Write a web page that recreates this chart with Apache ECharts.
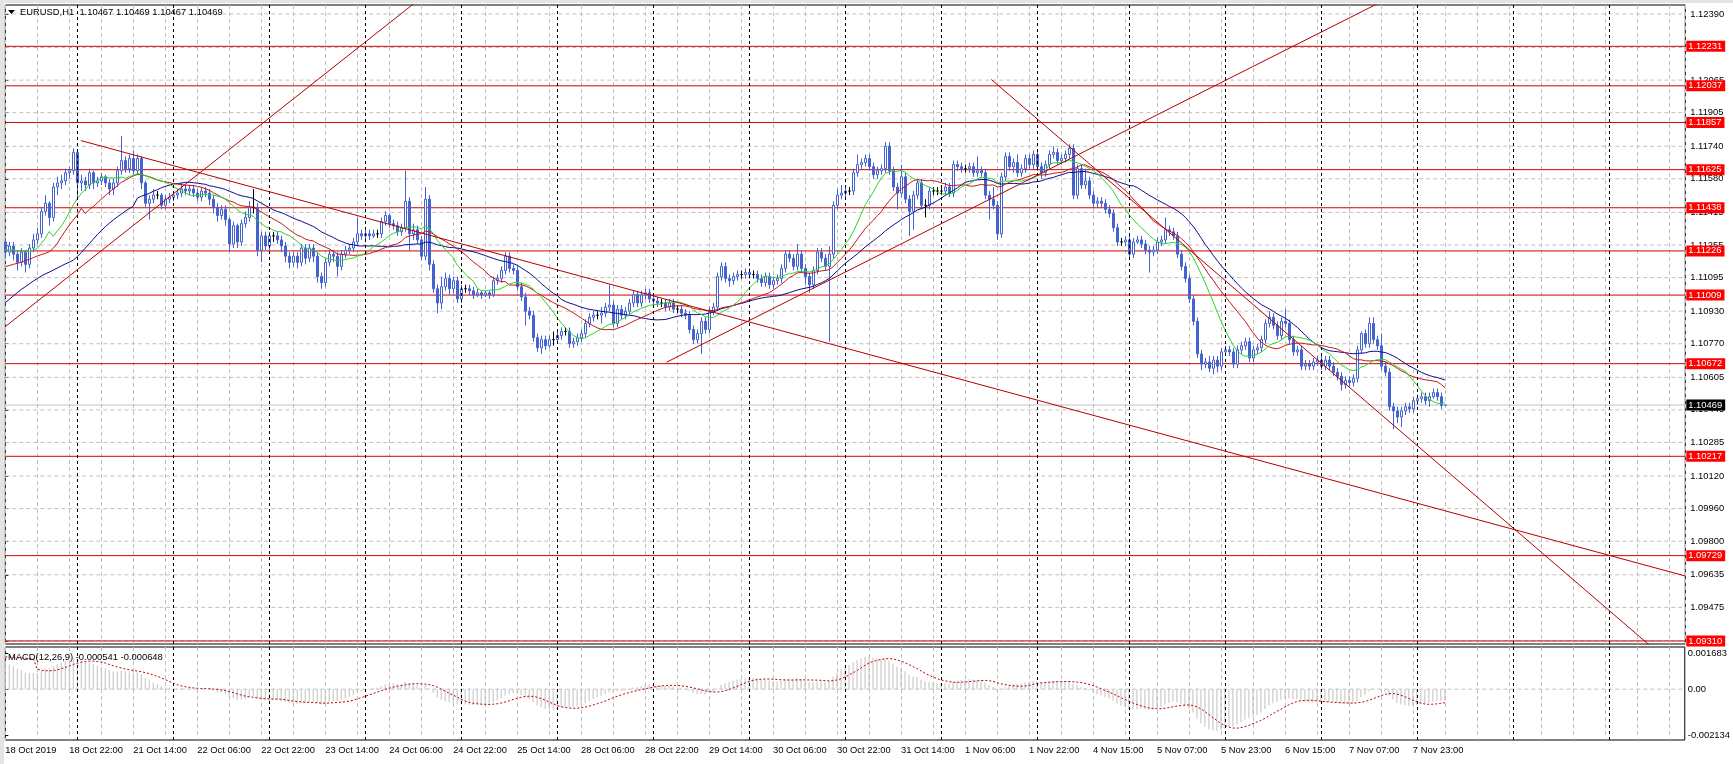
<!DOCTYPE html>
<html><head><meta charset="utf-8">
<script src="https://cdn.jsdelivr.net/npm/echarts@6/dist/echarts.min.js"></script>
<style>html,body{margin:0;padding:0;background:#fff}#c{width:1733px;height:764px}</style>
</head><body><div id="c"></div>
<script>
// ---------- DATA ----------
const symbolTitle = 'EURUSD,H1';
const sessions = [['2019-10-18',6,23],['2019-10-21',0,23],['2019-10-22',0,23],['2019-10-23',0,23],['2019-10-24',0,23],['2019-10-25',0,23],['2019-10-28',0,23],['2019-10-29',0,23],['2019-10-30',0,23],['2019-10-31',0,23],['2019-11-01',0,23],['2019-11-04',1,23],['2019-11-05',0,23],['2019-11-06',0,23],['2019-11-07',0,23],['2019-11-08',0,7]];
const futureBars = 60;
const firstOpen = 1.1127;
const closes = [
1.1122,1.1125,1.1121,1.1117,1.1122,1.1116,1.1124,1.1128,1.1131,1.1142,
1.1146,1.1139,1.1154,1.1156,1.1157,1.1161,1.1162,1.1171,1.1156,1.1157,
1.1155,1.1161,1.1156,1.1157,1.1159,1.1156,1.1153,1.1156,1.1162,1.1167,
1.1163,1.1168,1.1162,1.1168,1.1156,1.1146,1.1148,1.1150,1.1150,1.1145,
1.1148,1.1149,1.1150,1.1151,1.1153,1.1152,1.1153,1.1151,1.1149,1.1152,
1.1151,1.1148,1.1144,1.1140,1.1143,1.1138,1.1126,1.1135,1.1127,1.1136,
1.1139,1.1144,1.1144,1.1123,1.1130,1.1125,1.1130,1.1130,1.1128,1.1125,
1.1120,1.1117,1.1120,1.1117,1.1124,1.1119,1.1124,1.1120,1.1110,1.1107,
1.1117,1.1121,1.1120,1.1115,1.1121,1.1123,1.1124,1.1127,1.1131,1.1130,
1.1131,1.1130,1.1131,1.1131,1.1137,1.1140,1.1136,1.1135,1.1132,1.1134,
1.1147,1.1131,1.1133,1.1128,1.1120,1.1148,1.1116,1.1104,1.1097,1.1105,
1.1109,1.1104,1.1108,1.1099,1.1104,1.1104,1.1103,1.1101,1.1102,1.1101,
1.1102,1.1101,1.1108,1.1109,1.1113,1.1120,1.1114,1.1113,1.1105,1.1100,
1.1093,1.1091,1.1080,1.1075,1.1079,1.1076,1.1079,1.1079,1.1081,1.1083,
1.1083,1.1077,1.1078,1.1080,1.1082,1.1087,1.1090,1.1091,1.1091,1.1092,
1.1095,1.1096,1.1087,1.1094,1.1091,1.1093,1.1097,1.1101,1.1097,1.1101,
1.1102,1.1099,1.1098,1.1097,1.1097,1.1095,1.1097,1.1094,1.1094,1.1092,
1.1091,1.1084,1.1079,1.1082,1.1088,1.1084,1.1093,1.1095,1.1110,1.1115,
1.1109,1.1108,1.1110,1.1111,1.1111,1.1112,1.1111,1.1111,1.1109,1.1107,
1.1110,1.1106,1.1108,1.1109,1.1114,1.1121,1.1119,1.1115,1.1121,1.1114,
1.1110,1.1106,1.1113,1.1122,1.1119,1.1115,1.1121,1.1145,1.1150,1.1151,
1.1152,1.1152,1.1161,1.1165,1.1166,1.1168,1.1164,1.1160,1.1162,1.1163,
1.1174,1.1162,1.1154,1.1151,1.1159,1.1148,1.1142,1.1150,1.1156,1.1145,
1.1145,1.1152,1.1152,1.1152,1.1152,1.1154,1.1151,1.1165,1.1164,1.1163,
1.1163,1.1164,1.1161,1.1162,1.1161,1.1150,1.1148,1.1145,1.1131,1.1159,
1.1169,1.1164,1.1166,1.1161,1.1163,1.1168,1.1165,1.1170,1.1164,1.1161,
1.1165,1.1170,1.1171,1.1167,1.1168,1.1170,1.1173,1.1150,1.1163,1.1155,
1.1157,1.1150,1.1146,1.1147,1.1146,1.1143,1.1141,1.1134,1.1127,1.1127,
1.1128,1.1121,1.1127,1.1128,1.1126,1.1123,1.1122,1.1123,1.1127,1.1128,
1.1133,1.1132,1.1130,1.1121,1.1115,1.1109,1.1099,1.1088,1.1072,1.1067,
1.1068,1.1065,1.1069,1.1066,1.1073,1.1074,1.1073,1.1067,1.1074,1.1076,
1.1078,1.1070,1.1074,1.1075,1.1079,1.1087,1.1090,1.1086,1.1081,1.1088,
1.1087,1.1079,1.1073,1.1074,1.1066,1.1067,1.1066,1.1068,1.1069,1.1066,
1.1069,1.1066,1.1063,1.1061,1.1057,1.1059,1.1058,1.1060,1.1074,1.1082,
1.1077,1.1087,1.1079,1.1076,1.1066,1.1063,1.1046,1.1044,1.1041,1.1044,
1.1046,1.1045,1.1049,1.1050,1.1051,1.1049,1.1051,1.1053,1.1051,1.10467,
1.10469];
const highs = [
1.1129,1.1127,1.1127,1.1123,1.1124,1.1123,1.1126,1.1131,1.1134,1.1144,
1.1150,1.1147,1.1156,1.1159,1.1160,1.1163,1.1164,1.1173,1.1172,1.1160,
1.1159,1.1163,1.1162,1.1159,1.1161,1.1160,1.1158,1.1158,1.1164,1.1179,
1.1169,1.1170,1.1172,1.1170,1.1169,1.1157,1.1150,1.1153,1.1152,1.1151,
1.1150,1.1151,1.1152,1.1153,1.1156,1.1155,1.1155,1.1155,1.1153,1.1154,
1.1154,1.1153,1.1150,1.1146,1.1145,1.1145,1.1139,1.1137,1.1136,1.1138,
1.1142,1.1147,1.1153,1.1146,1.1132,1.1132,1.1132,1.1132,1.1132,1.1130,
1.1127,1.1122,1.1122,1.1122,1.1126,1.1126,1.1126,1.1126,1.1122,1.1112,
1.1119,1.1123,1.1123,1.1122,1.1123,1.1125,1.1126,1.1129,1.1139,1.1133,
1.1133,1.1133,1.1133,1.1133,1.1139,1.1142,1.1141,1.1138,1.1137,1.1136,
1.1162,1.1149,1.1136,1.1135,1.1130,1.1154,1.1150,1.1118,1.1106,1.1110,
1.1112,1.1111,1.1110,1.1110,1.1106,1.1106,1.1106,1.1105,1.1104,1.1103,
1.1103,1.1103,1.1110,1.1111,1.1115,1.1122,1.1122,1.1116,1.1115,1.1107,
1.1102,1.1095,1.1093,1.1082,1.1081,1.1081,1.1081,1.1083,1.1083,1.1085,
1.1085,1.1085,1.1080,1.1082,1.1084,1.1089,1.1092,1.1093,1.1093,1.1095,
1.1097,1.1106,1.1098,1.1096,1.1096,1.1095,1.1099,1.1103,1.1103,1.1103,
1.1104,1.1104,1.1101,1.1100,1.1099,1.1099,1.1099,1.1099,1.1096,1.1096,
1.1094,1.1093,1.1086,1.1084,1.1090,1.1090,1.1095,1.1097,1.1112,1.1117,
1.1117,1.1111,1.1112,1.1113,1.1113,1.1114,1.1114,1.1113,1.1113,1.1111,
1.1112,1.1112,1.1110,1.1111,1.1116,1.1123,1.1123,1.1121,1.1126,1.1123,
1.1116,1.1112,1.1115,1.1124,1.1124,1.1121,1.1125,1.1147,1.1153,1.1155,
1.1154,1.1154,1.1163,1.1170,1.1168,1.1170,1.1170,1.1166,1.1164,1.1165,
1.1176,1.1176,1.1164,1.1156,1.1165,1.1161,1.1150,1.1152,1.1158,1.1158,
1.1148,1.1154,1.1154,1.1154,1.1154,1.1156,1.1156,1.1167,1.1167,1.1166,
1.1165,1.1166,1.1166,1.1169,1.1164,1.1163,1.1152,1.1154,1.1147,1.1161,
1.1171,1.1171,1.1168,1.1170,1.1165,1.1170,1.1170,1.1172,1.1172,1.1166,
1.1167,1.1172,1.1174,1.1173,1.1170,1.1172,1.1175,1.1175,1.1165,1.1165,
1.1163,1.1159,1.1152,1.1149,1.1149,1.1148,1.1145,1.1143,1.1136,1.1129,
1.1130,1.1130,1.1129,1.1130,1.1130,1.1128,1.1125,1.1125,1.1129,1.1130,
1.1139,1.1135,1.1134,1.1132,1.1123,1.1117,1.1111,1.1101,1.1090,1.1074,
1.1070,1.1071,1.1071,1.1071,1.1075,1.1076,1.1076,1.1075,1.1076,1.1078,
1.1080,1.1080,1.1076,1.1077,1.1081,1.1089,1.1093,1.1092,1.1088,1.1090,
1.1094,1.1089,1.1081,1.1076,1.1076,1.1069,1.1069,1.1070,1.1071,1.1071,
1.1071,1.1071,1.1068,1.1065,1.1063,1.1061,1.1061,1.1062,1.1076,1.1083,
1.1084,1.1090,1.1090,1.1081,1.1082,1.1068,1.1065,1.1048,1.1046,1.1046,
1.1048,1.1048,1.1051,1.1052,1.1053,1.1053,1.1053,1.1055,1.1055,1.1053,
1.10469];
const lows = [
1.1119,1.1120,1.1118,1.1113,1.1115,1.1112,1.1114,1.1122,1.1126,1.1129,
1.1140,1.1135,1.1137,1.1150,1.1153,1.1155,1.1158,1.1160,1.1149,1.1152,
1.1152,1.1153,1.1153,1.1154,1.1155,1.1154,1.1150,1.1150,1.1154,1.1160,
1.1161,1.1161,1.1160,1.1160,1.1153,1.1144,1.1138,1.1146,1.1148,1.1143,
1.1143,1.1146,1.1147,1.1148,1.1149,1.1150,1.1150,1.1149,1.1147,1.1147,
1.1149,1.1145,1.1141,1.1137,1.1138,1.1135,1.1122,1.1124,1.1124,1.1125,
1.1134,1.1137,1.1141,1.1120,1.1117,1.1123,1.1123,1.1127,1.1126,1.1122,
1.1117,1.1114,1.1115,1.1114,1.1115,1.1116,1.1117,1.1117,1.1107,1.1104,
1.1105,1.1115,1.1117,1.1110,1.1113,1.1119,1.1121,1.1122,1.1125,1.1128,
1.1128,1.1128,1.1129,1.1129,1.1129,1.1135,1.1134,1.1133,1.1130,1.1130,
1.1132,1.1123,1.1128,1.1126,1.1118,1.1118,1.1113,1.1102,1.1092,1.1094,
1.1103,1.1101,1.1102,1.1097,1.1097,1.1102,1.1101,1.1099,1.1100,1.1099,
1.1100,1.1099,1.1100,1.1106,1.1107,1.1111,1.1112,1.1111,1.1103,1.1098,
1.1086,1.1089,1.1078,1.1073,1.1072,1.1074,1.1075,1.1076,1.1077,1.1079,
1.1081,1.1075,1.1075,1.1076,1.1078,1.1080,1.1085,1.1088,1.1089,1.1087,
1.1090,1.1093,1.1085,1.1085,1.1089,1.1089,1.1091,1.1095,1.1095,1.1095,
1.1099,1.1097,1.1096,1.1095,1.1095,1.1093,1.1093,1.1092,1.1092,1.1090,
1.1089,1.1082,1.1077,1.1077,1.1072,1.1082,1.1082,1.1091,1.1093,1.1108,
1.1107,1.1105,1.1106,1.1108,1.1109,1.1109,1.1109,1.1109,1.1107,1.1105,
1.1105,1.1104,1.1104,1.1106,1.1107,1.1112,1.1117,1.1113,1.1113,1.1112,
1.1106,1.1102,1.1104,1.1111,1.1117,1.1113,1.1078,1.1119,1.1143,1.1148,
1.1149,1.1150,1.1150,1.1159,1.1163,1.1164,1.1162,1.1158,1.1158,1.1160,
1.1161,1.1160,1.1152,1.1143,1.1149,1.1146,1.1130,1.1133,1.1148,1.1143,
1.1139,1.1143,1.1150,1.1150,1.1150,1.1150,1.1149,1.1149,1.1162,1.1161,
1.1161,1.1161,1.1159,1.1159,1.1159,1.1148,1.1138,1.1143,1.1128,1.1129,
1.1157,1.1162,1.1161,1.1159,1.1159,1.1161,1.1163,1.1163,1.1162,1.1158,
1.1159,1.1163,1.1168,1.1165,1.1165,1.1166,1.1168,1.1148,1.1148,1.1153,
1.1153,1.1148,1.1144,1.1144,1.1144,1.1141,1.1139,1.1132,1.1125,1.1125,
1.1125,1.1119,1.1119,1.1126,1.1124,1.1121,1.1112,1.1120,1.1121,1.1125,
1.1126,1.1130,1.1128,1.1119,1.1113,1.1107,1.1097,1.1086,1.1070,1.1064,
1.1065,1.1063,1.1062,1.1063,1.1064,1.1071,1.1071,1.1065,1.1065,1.1072,
1.1074,1.1068,1.1068,1.1072,1.1073,1.1077,1.1085,1.1084,1.1079,1.1079,
1.1085,1.1077,1.1071,1.1071,1.1064,1.1064,1.1064,1.1064,1.1066,1.1064,
1.1064,1.1064,1.1061,1.1059,1.1054,1.1055,1.1056,1.1056,1.1058,1.1072,
1.1075,1.1075,1.1077,1.1074,1.1064,1.1061,1.1044,1.1035,1.1038,1.1036,
1.1042,1.1043,1.1043,1.1047,1.1048,1.1047,1.1046,1.1050,1.1049,1.1045,
1.10467];
// moving averages (periods) and their values at the left edge
const maPeriods = {green:13, red:21, blue:34};
const greenStart = [1.11231,1.11231,1.11231,1.11227,1.11226,1.11224,1.11222,1.11227,1.11239,1.11263,1.11288,1.11321];
const redStart = [1.11149,1.11154,1.11160,1.11165,1.11170,1.11178,1.11185,1.11193,1.11201,1.11208,1.11214,1.11222,1.11239,1.11263,1.11296,1.11324,1.11353,1.11378,1.11402,1.11435];
const blueStart = [1.10972,1.10988,1.11005,1.11021,1.11037,1.11050,1.11064,1.11078,1.11090,1.11103,1.11113,1.11122,1.11132,1.11142,1.11152,1.11162,1.11170,1.11181,1.11198,1.11218,1.11240,1.11262,1.11284,1.11306,1.11326,1.11345,1.11362,1.11378,1.11393,1.11407,1.11421,1.11434,1.11446];
// MACD(12,26,9): EMA state before the first bar and first signal values
const emaFastStart = 1.1121, emaSlowStart = 1.1108;
const signalStart = [0.00150,0.00149,0.00147,0.00146,0.00145,0.00144,0.00143,0.00142];
const macdTitle = 'MACD(12,26,9) -0.000541 -0.000648';
// horizontal levels and trend lines (bar index, price)
const levels = [1.12231,1.12037,1.11857,1.11625,1.11438,1.11226,1.11009,1.10672,1.10217,1.09729,1.09310];
const trendLines = [
  [[0,1.10854],[110,1.12563]],
  [[18.9,1.11768],[420,1.09629]],
  [[165.3,1.10679],[420,1.13203]],
  [[246.5,1.12068],[420,1.09138]]
];
const priceTicks = [1.12390,1.12225,1.12065,1.11905,1.11740,1.11580,1.11415,1.11255,1.11095,1.10930,1.10770,1.10605,1.10445,1.10285,1.10120,1.09960,1.09800,1.09635,1.09475,1.09310];
const macdTicks = [0.001683,0,-0.002134];
const priceRange = [1.09295,1.12434];
const macdRange = [-0.002367,0.001962];

// ---------- BUILD ----------
const MON=['Jan','Feb','Mar','Apr','May','Jun','Jul','Aug','Sep','Oct','Nov','Dec'];
const times=[];
sessions.forEach(([d,h0,h1])=>{for(let h=h0;h<=h1;h++)times.push(new Date(d+'T'+String(h).padStart(2,'0')+':00:00Z'));});
const lastBar = times.length-1;
const lastT = times[lastBar].getTime();
for(let k=1;k<=futureBars;k++)times.push(new Date(lastT+k*3600e3));
const categories = times.map(t=>t.toISOString().slice(0,13));
const N = categories.length-1;
const dayStarts=[];
for(let i=1;i<categories.length;i++) if(categories[i].slice(0,10)!==categories[i-1].slice(0,10)) dayStarts.push(i);
function timeLabel(v){
  const i=categories.indexOf(v);
  if(i<0||i>lastBar) return '';
  const t=times[i];
  if(i===0) return t.getUTCDate()+' '+MON[t.getUTCMonth()]+' '+t.getUTCFullYear();
  return t.getUTCDate()+' '+MON[t.getUTCMonth()]+' '+String(t.getUTCHours()).padStart(2,'0')+':00';
}
const opens = closes.map((c,i)=> i===0?firstOpen:closes[i-1]);
const candles = closes.map((c,i)=>[opens[i],c,lows[i],highs[i]]);
const avg=a=>a.reduce((s,v)=>s+v,0)/a.length;
function sma(p,start){return closes.map((_,i)=> i<p-1? start[i] : +avg(closes.slice(i-p+1,i+1)).toFixed(5));}
const maGreen=sma(maPeriods.green,greenStart), maRed=sma(maPeriods.red,redStart), maBlue=sma(maPeriods.blue,blueStart);
let e12=emaFastStart,e26=emaSlowStart; const macdMain=[];
closes.forEach(c=>{e12+=(c-e12)*2/13;e26+=(c-e26)*2/27;macdMain.push(+(e12-e26).toFixed(6));});
const macdSignal=macdMain.map((_,i)=> i<8? signalStart[i] : +avg(macdMain.slice(i-8,i+1)).toFixed(6));

const FONT='Liberation Sans', FS=9.4;
const lastClose = closes[lastBar];
const hline=(v,color,type,z,xi,yi)=>({type:'line',xAxisIndex:xi,yAxisIndex:yi,data:[[0,v],[N,v]],showSymbol:false,silent:true,z:z,animation:false,lineStyle:{color:color,type:type,width:1}});
const tagAxis=(vals,bg)=>({type:'value',gridIndex:0,position:'right',min:priceRange[0],max:priceRange[1],z:10,
  axisLine:{show:false},axisTick:{show:false},splitLine:{show:false},
  axisLabel:{customValues:vals,formatter:v=>v.toFixed(5),margin:1,fontSize:FS,fontFamily:FONT,color:'#fff',backgroundColor:bg,padding:[1,3,0,2],lineHeight:10}});
const chart=echarts.init(document.getElementById('c'),null,{renderer:'canvas'});
const option={
  animation:false,backgroundColor:'#fff',textStyle:{fontFamily:FONT},
  grid:[{left:5.3,top:5,width:1680,height:639,show:true,borderColor:'#000',borderWidth:1},
        {left:5.3,top:647,width:1680,height:93,show:true,borderColor:'#000',borderWidth:1}],
  xAxis:[
    {type:'category',gridIndex:0,data:categories,boundaryGap:false,axisLine:{show:false},axisTick:{show:false},axisLabel:{show:false},splitLine:{show:false}},
    {type:'category',gridIndex:1,data:categories,boundaryGap:false,axisLine:{show:false},axisTick:{show:false},
     axisLabel:{show:true,interval:(i)=>i%16===0&&i<=lastBar,formatter:(v)=>timeLabel(v),align:'left',margin:6,fontSize:FS,color:'#000',fontFamily:FONT,hideOverlap:false},splitLine:{show:false}},
    {type:'value',gridIndex:0,min:0,max:N,interval:8,axisLine:{show:false},axisTick:{show:false},axisLabel:{show:false},splitLine:{show:true,lineStyle:{color:'#c0c0c0',type:[4,3],width:1}}},
    {type:'value',gridIndex:1,min:0,max:N,interval:8,axisLine:{show:false},axisTick:{show:false},axisLabel:{show:false},splitLine:{show:true,lineStyle:{color:'#c0c0c0',type:[4,3],width:1}}}
  ],
  yAxis:[
    {type:'value',gridIndex:0,position:'right',min:priceRange[0],max:priceRange[1],axisLine:{show:false},
     axisTick:{show:true,length:3,customValues:priceTicks,lineStyle:{color:'#000'}},
     axisLabel:{customValues:priceTicks,formatter:v=>v.toFixed(5),margin:5,fontSize:FS,color:'#000',fontFamily:FONT},splitLine:{show:false}},
    {type:'value',gridIndex:1,position:'right',min:macdRange[0],max:macdRange[1],axisLine:{show:false},
     axisTick:{show:true,length:3,customValues:macdTicks,lineStyle:{color:'#000'}},
     axisLabel:{customValues:macdTicks,formatter:v=>v===0?'0.00':v.toFixed(6),margin:3,fontSize:FS,color:'#000',fontFamily:FONT},splitLine:{show:false}},
    tagAxis(levels,'#ff0000'),
    tagAxis([lastClose],'#000000')
  ],
  graphic:[
    {type:'rect',shape:{x:0,y:0,width:1733,height:3},style:{fill:'#e4e4e4'},silent:true},
    {type:'rect',shape:{x:0,y:0,width:4,height:764},style:{fill:'#e4e4e4'},silent:true},
    {type:'polygon',shape:{points:[[8,10],[15,10],[11.5,14]]},style:{fill:'#000'},z:100},
    {type:'text',left:20,top:8,z:100,style:{text:symbolTitle+'  '+[opens[lastBar],highs[lastBar],lows[lastBar],closes[lastBar]].map(v=>v.toFixed(5)).join(' '),font:FS+'px '+FONT,fill:'#000'}},
    {type:'text',left:8,top:653,z:100,style:{text:macdTitle,font:FS+'px '+FONT,fill:'#000'}}
  ],
  series:[
    ...priceTicks.map(v=>hline(v,'#c0c0c0',[4,3],1,2,0)),
    {type:'line',xAxisIndex:2,yAxisIndex:0,data:[],silent:true,z:1,
     markLine:{silent:true,symbol:'none',animation:false,label:{show:false},
       data:dayStarts.map(i=>({xAxis:i,lineStyle:{color:'#000',type:[3,3],width:1}}))}},
    hline(lastClose,'#c0c0c0','solid',2,2,0),
    ...levels.map(v=>hline(v,'#d00000','solid',2,2,0)),
    {type:'candlestick',xAxisIndex:0,yAxisIndex:0,data:candles,barWidth:3,z:3,
     itemStyle:{color:'#ffffff',color0:'#4463d0',borderColor:'#4463d0',borderColor0:'#4463d0',borderColorDoji:'#000',borderWidth:1}},
    {type:'line',xAxisIndex:0,yAxisIndex:0,data:maBlue,showSymbol:false,z:4,lineStyle:{color:'#0a0a8c',width:1}},
    {type:'line',xAxisIndex:0,yAxisIndex:0,data:maRed,showSymbol:false,z:4,lineStyle:{color:'#c81414',width:1}},
    {type:'line',xAxisIndex:0,yAxisIndex:0,data:maGreen,showSymbol:false,z:4,lineStyle:{color:'#2bd42b',width:1}},
    ...trendLines.map(tl=>({type:'line',xAxisIndex:2,yAxisIndex:0,data:tl,showSymbol:false,clip:true,z:5,silent:true,lineStyle:{color:'#b40000',width:1}})),
    hline(0,'#c0c0c0',[4,3],1,3,1),
    {type:'line',xAxisIndex:3,yAxisIndex:1,data:[],silent:true,z:1,
     markLine:{silent:true,symbol:'none',animation:false,label:{show:false},
       data:dayStarts.map(i=>({xAxis:i,lineStyle:{color:'#000',type:[3,3],width:1}}))}},
    {type:'bar',xAxisIndex:1,yAxisIndex:1,data:macdMain,barWidth:1,z:2,itemStyle:{color:'#c0c0c0'}},
    {type:'line',xAxisIndex:1,yAxisIndex:1,data:macdSignal,showSymbol:false,z:3,lineStyle:{color:'#c00000',width:1,type:[2,2]}}
  ]
};
chart.setOption(option);
</script></body></html>
